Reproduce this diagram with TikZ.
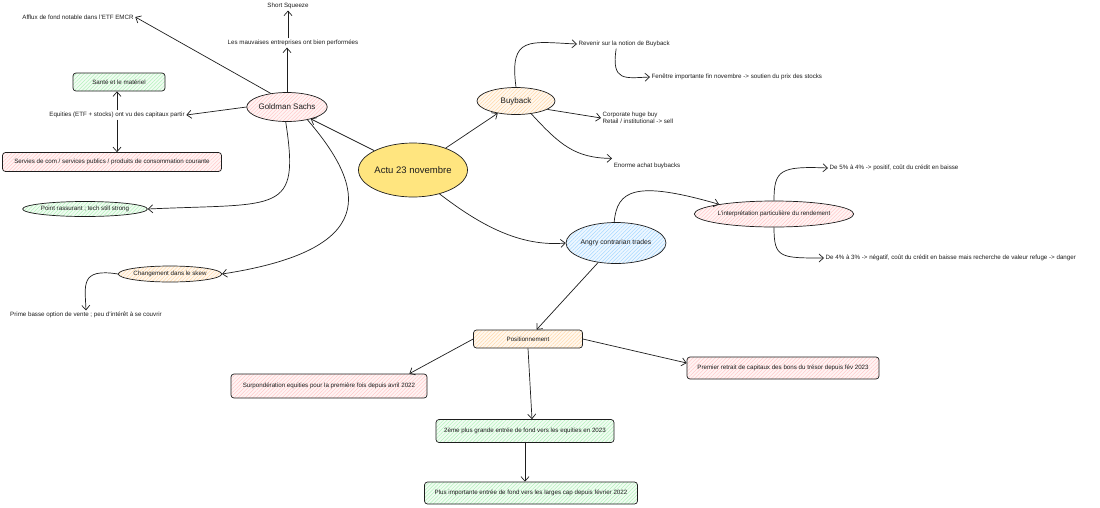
\documentclass[tikz,border=0pt]{standalone}
\usepackage{fontspec}
\setmainfont{Liberation Sans}
\usetikzlibrary{arrows.meta,patterns.meta,shapes.geometric}
\definecolor{ink}{HTML}{1E1E1E}
\definecolor{yel}{HTML}{FFE57F}
\definecolor{pinkl}{HTML}{FFC9C9}\definecolor{pinkf}{HTML}{FFF4F4}
\definecolor{greenl}{HTML}{B2F2BB}\definecolor{greenf}{HTML}{F1FCF2}
\definecolor{orgl}{HTML}{FFD8A8}\definecolor{orgf}{HTML}{FFF8EF}
\definecolor{bluel}{HTML}{A5D8FF}\definecolor{bluef}{HTML}{EEF7FF}
\tikzset{
  base/.style={draw=ink, line width=0.7pt, text=ink, align=center, font=\fontsize{6.2}{6.8}\selectfont},
  ell/.style={base, ellipse, inner sep=0pt},
  box/.style={base, rectangle, rounded corners=3pt, inner sep=0pt},
  hatch/.style 2 args={preaction={fill=#2}, pattern={Lines[angle=45,distance=2.6pt,line width=0.5pt]}, pattern color=#1},
  lbl/.style={text=ink, inner sep=1.5pt, font=\fontsize{6.2}{6.8}\selectfont},
  conn/.style={draw=ink, line width=0.7pt, -{Straight Barb[length=4.5pt,width=8pt]}},
}
\begin{document}
\begin{tikzpicture}[x=1pt,y=-1pt]
\useasboundingbox[fill=white] (0,0) rectangle (1100,507);
% main nodes
\node[ell, fill=yel, minimum width=93pt, minimum height=54pt, font=\fontsize{9.5}{11}\selectfont] (actu) at (413,170) {Actu 23 novembre};
\node[ell, hatch={pinkl}{pinkf}, minimum width=74pt, minimum height=29pt, font=\fontsize{8}{9}\selectfont] (gs) at (287,107) {Goldman Sachs};
\node[ell, hatch={orgl}{orgf}, minimum width=78pt, minimum height=27pt, font=\fontsize{8}{9}\selectfont] (buy) at (516,101) {Buyback};
\node[ell, hatch={bluel}{bluef}, minimum width=88pt, minimum height=41pt, font=\fontsize{6.8}{8}\selectfont] (angry) at (616,243) {Angry contrarian trades};
\node[ell, hatch={pinkl}{pinkf}, minimum width=132pt, minimum height=26pt] (interp) at (774,214) {L'interprétation particulière du rendement};
\node[ell, hatch={greenl}{greenf}, minimum width=105pt, minimum height=15pt] (point) at (85,209) {Point rassurant ; tech still strong};
\node[ell, hatch={orgl}{orgf}, minimum width=87pt, minimum height=16pt] (chg) at (170,274) {Changement dans le skew};
% boxes
\node[box, hatch={orgl}{orgf}, minimum width=109pt, minimum height=18pt] (pos) at (528,339) {Positionnement};
\node[box, hatch={pinkl}{pinkf}, minimum width=196pt, minimum height=24pt] (surp) at (329,386) {Surpondération equities pour la première fois depuis avril 2022};
\node[box, hatch={pinkl}{pinkf}, minimum width=192pt, minimum height=22pt] (prem) at (783,368) {Premier retrait de capitaux des bons du trésor depuis fév 2023};
\node[box, hatch={greenl}{greenf}, minimum width=178pt, minimum height=23pt] (deux) at (525,431) {2ème plus grande entrée de fond vers les equities en 2023};
\node[box, hatch={greenl}{greenf}, minimum width=213pt, minimum height=22pt] (plus) at (531,493) {Plus importante entrée de fond vers les larges cap depuis février 2022};
\node[box, hatch={greenl}{greenf}, minimum width=92pt, minimum height=18pt] (sante) at (119,82) {Santé et le matériel};
\node[box, hatch={pinkl}{pinkf}, minimum width=219pt, minimum height=19pt] (serv) at (112,162) {Servies de com / services publics / produits de consommation courante};
% text labels
\node[lbl] (afflux) at (78,17) {Afflux de fond notable dans l'ETF EMCR};
\node[lbl] (short) at (288,6) {Short Squeeze};
\node[lbl] (mauv) at (293,43) {Les mauvaises entreprises ont bien performées};
\node[lbl] (equit) at (117,115) {Equities (ETF + stocks) ont vu des capitaux partir};
\node[lbl] (prime) at (86,315) {Prime basse option de vente ; peu d'intérêt à se couvrir};
\node[lbl, anchor=west] (revenir) at (577,44) {Revenir sur la notion de Buyback};
\node[lbl, anchor=west] (fenetre) at (650,77) {Fenêtre importante fin novembre -> soutien du prix des stocks};
\node[lbl, anchor=west, align=left] (corp) at (601,118) {Corporate huge buy\\Retail / institutional -> sell};
\node[lbl] (enorme) at (647,166) {Enorme achat buybacks};
\node[lbl, anchor=west] (de5) at (828,168) {De 5\% à 4\% -> positif, coût du crédit en baisse};
\node[lbl, anchor=west] (de4) at (824,258) {De 4\% à 3\% -> négatif, coût du crédit en baisse mais recherche de valeur refuge -> danger};
% connectors
\draw[conn] (actu) -- (gs);
\draw[conn] (actu) -- (buy);
\draw[conn] (actu.-42) .. controls (480,225) and (520,247) .. (angry.west);
\draw[conn] (gs.140) -- (afflux.east);
\draw[conn] (gs.north) -- (gs.north |- mauv.south);
\draw[conn] (mauv.north -| short.south) -- (short.south);
\draw[conn] (gs.west) -- (equit.east);
\draw[conn] (equit.north) -- (equit.north |- sante.south);
\draw[conn] (equit.south) -- (equit.south |- serv.north);
\draw[conn] (gs.-95) .. controls (300,215) and (280,203) .. (point.east);
\draw[conn] (gs.-32) .. controls (368,190) and (378,250) .. (chg.east);
\draw[conn] (chg.west) .. controls (80,268) and (85,285) .. (prime.north);
\draw[conn] (buy.north) .. controls (509,35) and (530,42) .. (revenir.west);
\draw[conn] ([xshift=-8pt]revenir.south) .. controls (611,82) and (625,78) .. (fenetre.west);
\draw[conn] (buy.-15) -- (corp.west);
\draw[conn] (buy.-40) .. controls (560,145) and (575,158) .. ([yshift=3pt]enorme.north west);
\draw[conn] (angry.95) .. controls (617,190) and (635,180) .. (interp.170);
\draw[conn] (interp.north) .. controls (774,170) and (780,166) .. (de5.west);
\draw[conn] (interp.south) .. controls (774,258) and (780,258) .. (de4.west);
\draw[conn] (angry) -- (pos);
\draw[conn] (pos.west) -- ([xshift=-18pt]surp.north east);
\draw[conn] (pos.east) -- ([yshift=5pt]prem.west);
\draw[conn] (pos.south) -- ([xshift=7pt]deux.north);
\draw[conn] (deux.south) -- (deux.south |- plus.north);
\end{tikzpicture}
\end{document}
